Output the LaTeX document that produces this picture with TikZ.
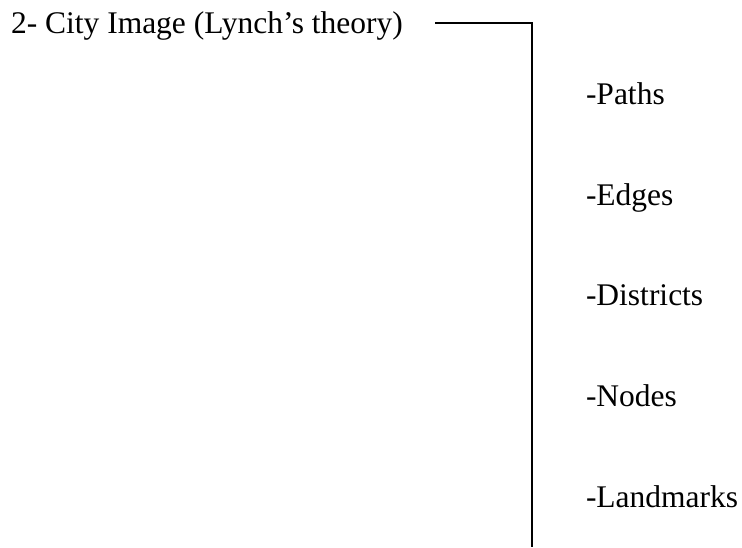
\documentclass[tikz,border=0pt]{standalone}
\usepackage{fontspec}
\setmainfont{Liberation Serif}
\begin{document}
\begin{tikzpicture}[x=1pt,y=1pt,
  lbl/.style={anchor=base west,inner sep=0pt,outer sep=0pt,font=\fontsize{31.5}{36}\selectfont},
  conn/.style={line width=1.5pt,line cap=butt}]
\useasboundingbox (0,0) rectangle (742,-547);
\node[lbl] (title) at (11,-33) {2- City Image (Lynch’s theory)};
\node[lbl] (paths) at (586,-104) {-Paths};
\node[lbl] (edges) at (586,-205) {-Edges};
\node[lbl] (districts) at (586,-305) {-Districts};
\node[lbl] (nodes) at (586,-406) {-Nodes};
\node[lbl] (landmarks) at (586,-507) {-Landmarks};
\coordinate (hstart) at (435,-23);
\coordinate (corner) at (532,-23);
\coordinate (bottom) at (532,-547);
\draw[conn] (hstart) -- (corner) -- (bottom);
\end{tikzpicture}
\end{document}
